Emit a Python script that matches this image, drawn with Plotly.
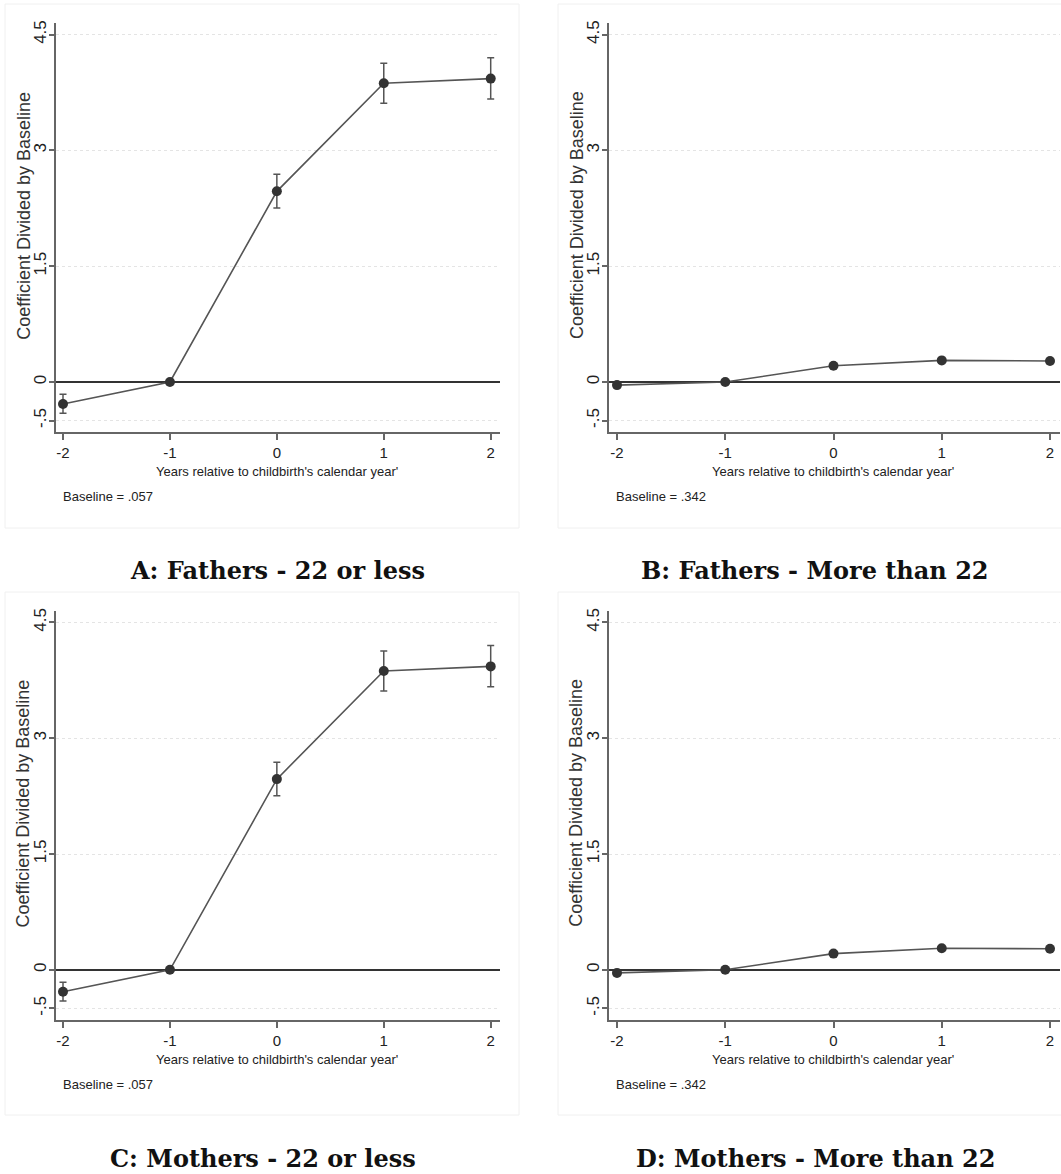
import plotly.graph_objects as go

# Event-study estimates (coefficient divided by baseline) by years around childbirth
years = [-2, -1, 0, 1, 2]

young_coef = [-0.285, 0.0, 2.47, 3.87, 3.93]
young_ci_low = [-0.405, 0.0, 2.255, 3.61, 3.665]
young_ci_high = [-0.16, 0.0, 2.69, 4.13, 4.20]

older_coef = [-0.04, 0.0, 0.21, 0.28, 0.272]
older_ci_low = [-0.065, 0.0, 0.185, 0.255, 0.247]
older_ci_high = [-0.015, 0.0, 0.235, 0.305, 0.297]

panel_titles = ["A: Fathers - 22 or less", "B: Fathers - More than 22",
                "C: Mothers - 22 or less", "D: Mothers - More than 22"]
baseline_notes = ["Baseline = .057", "Baseline = .342", "Baseline = .057", "Baseline = .342"]

y_tickvals = [-0.5, 0, 1.5, 3, 4.5]
y_ticktext = ["-.5", "0", "1.5", "3", "4.5"]
x_tickvals = [-2, -1, 0, 1, 2]
x_ticktext = ["-2", "-1", "0", "1", "2"]

W, H = 1061, 1174

# pixel geometry of each panel: axis box, light outer frame and title centre
panels = [
    dict(x0=55.7, x1=500, pad=7.3, xt=277, yt=23.3, yb=431.7, frame=(5, 519, 4, 528), title=(277, 570)),
    dict(x0=609, x1=1060, pad=8, xt=833, yt=23.3, yb=431.7, frame=(558, 1075, 4, 528), title=(815, 570)),
    dict(x0=55.7, x1=500, pad=7.3, xt=277, yt=611, yb=1019.5, frame=(5, 519, 592, 1115), title=(263, 1158)),
    dict(x0=609, x1=1060, pad=8, xt=833, yt=611, yb=1019.5, frame=(558, 1075, 592, 1115), title=(815, 1158)),
]
series = [
    (young_coef, young_ci_low, young_ci_high),
    (older_coef, older_ci_low, older_ci_high),
    (young_coef, young_ci_low, young_ci_high),
    (older_coef, older_ci_low, older_ci_high),
]

def px(x):
    return x / W

def py(y):
    return 1 - y / H

fig = go.Figure()
annotations = []
shapes = []
sans = "Liberation Sans, Arial, sans-serif"

for i, (p, (coef, lo, hi)) in enumerate(zip(panels, series)):
    k = "" if i == 0 else str(i + 1)
    xa, ya = "x" + k, "y" + k
    fig.add_trace(go.Scatter(
        x=years, y=coef, xaxis=xa, yaxis=ya, mode="lines+markers",
        line=dict(color="#555555", width=1.6),
        marker=dict(color="#333333", size=10),
        error_y=dict(type="data", symmetric=False,
                     array=[h - c for h, c in zip(hi, coef)],
                     arrayminus=[c - l for c, l in zip(coef, lo)],
                     color="#555555", thickness=1.5, width=3.5),
        showlegend=False, hoverinfo="skip",
    ))
    ppu_x = (p["x1"] - p["x0"] - 2 * p["pad"] - 2) / 4
    x_lo = -2 - p["pad"] / ppu_x
    x_hi = x_lo + (p["x1"] - p["x0"]) / ppu_x
    ppu_y = 77.2
    zero_px = p["yb"] - 49.7
    y_hi = (zero_px - p["yt"]) / ppu_y
    y_lo = (zero_px - p["yb"]) / ppu_y

    fig.update_layout(**{
        ("xaxis" + k): dict(
            domain=[px(p["x0"]), px(p["x1"])], anchor=ya, range=[x_lo, x_hi],
            tickvals=x_tickvals, ticktext=x_ticktext, ticks="outside", ticklen=6,
            tickwidth=1.5, tickcolor="#666666", showline=True, linecolor="#666666",
            linewidth=2, showgrid=False, zeroline=False, automargin=False,
            tickfont=dict(family=sans, size=15, color="#222222"),
        ),
        ("yaxis" + k): dict(
            domain=[py(p["yb"]), py(p["yt"])], anchor=xa, range=[y_lo, y_hi],
            tickvals=y_tickvals, ticktext=y_ticktext, ticks="outside", ticklen=5,
            tickwidth=1.5, tickcolor="#666666", showline=True, linecolor="#666666",
            linewidth=2, tickangle=-90, showgrid=True, gridcolor="#e4e4e4",
            griddash="dot", gridwidth=1, zeroline=True, zerolinecolor="#333333",
            zerolinewidth=2, ticklabelstandoff=-4, automargin=False,
            tickfont=dict(family=sans, size=17, color="#222222"),
        ),
    })

    fx0, fx1, fy0, fy1 = p["frame"]
    shapes.append(dict(type="rect", xref="paper", yref="paper",
                       x0=px(fx0), x1=px(fx1), y0=py(fy1), y1=py(fy0),
                       line=dict(color="#f0f0f0", width=1), layer="below"))

    # y-axis title
    annotations.append(dict(
        text="Coefficient Divided by Baseline", textangle=-90,
        x=px(p["x0"] - 32.5), y=py((p["yt"] + p["yb"]) / 2 - 12),
        xref="paper", yref="paper", xanchor="center", yanchor="middle", showarrow=False,
        font=dict(family=sans, size=18, color="#333333")))
    # x-axis title
    annotations.append(dict(
        text="Years relative to childbirth's calendar year'",
        x=px(p["xt"]), y=py(p["yb"] + 40),
        xref="paper", yref="paper", xanchor="center", yanchor="middle", showarrow=False,
        font=dict(family=sans, size=13, color="#222222")))
    # baseline note
    annotations.append(dict(
        text=baseline_notes[i], x=px(p["x0"] + 5), y=py(p["yb"] + 65),
        xref="paper", yref="paper", xanchor="left", yanchor="middle", showarrow=False,
        font=dict(family=sans, size=13, color="#222222")))
    # panel title
    tx, ty = p["title"]
    annotations.append(dict(
        text="<b>" + panel_titles[i] + "</b>", x=px(tx), y=py(ty),
        xref="paper", yref="paper", xanchor="center", yanchor="middle", showarrow=False,
        font=dict(family="DejaVu Serif, Liberation Serif, serif", size=24, color="#111111")))

fig.update_layout(
    width=W, height=H, margin=dict(l=0, r=0, t=0, b=0, autoexpand=False),
    paper_bgcolor="white", plot_bgcolor="white",
    annotations=annotations, shapes=shapes,
)

fig.write_html("out.html")
